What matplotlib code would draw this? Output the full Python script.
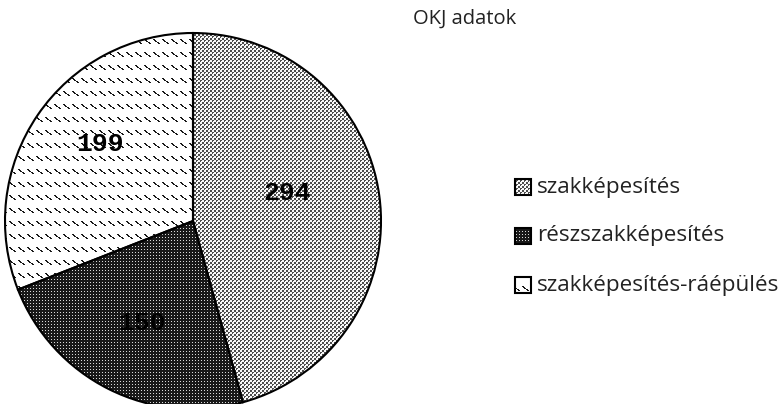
import numpy as np
import matplotlib
matplotlib.use("Agg")
import matplotlib.pyplot as plt
from matplotlib.patches import Rectangle

categories = ["szakképesítés", "részszakképesítés", "szakképesítés-ráépülés"]
values = [294, 150, 199]
title = "OKJ adatok"

W, H = 781, 404
fig = plt.figure(figsize=(W / 100, H / 100), dpi=100)
ax = fig.add_axes([0, 0, 1, 1])

# pixel-level fill textures (grayscale, 1 = white)
ii, jj = np.mgrid[0:H, 0:W]

def tex_check():
    t = np.where(((ii // 2) + (jj // 2)) % 2 == 0, 0.3, 0.97)
    t = np.where((ii % 4 == 1) & (jj % 4 == 1), 1.0, t)
    return t

def tex_dark():
    t = np.full((H, W), 0.1)
    t = np.where((ii % 3 == 0) & (jj % 3 == 0), 0.85, t)
    return t

def tex_dash():
    k = ii % 13
    d = (jj - np.round(1.2 * k)) % 9
    return np.where((k < 5) & (d < 2), 0.1, 1.0)

textures = [tex_check(), tex_dark(), tex_dash()]

cx, cy, r = 193, 404 - 221, 188
wedges, _ = ax.pie(values, startangle=90, counterclock=False,
                   center=(cx, cy), radius=r,
                   wedgeprops=dict(facecolor="none", edgecolor="black",
                                   linewidth=1.5, zorder=3))

for w, t in zip(wedges, textures):
    im = ax.imshow(t, extent=(0, W, 0, H), origin="upper", cmap="gray",
                   vmin=0, vmax=1, interpolation="nearest", zorder=1)
    im.set_clip_path(w)

# value labels inside the slices
label_pos = [(287, 404 - 193), (142, 404 - 323), (100, 404 - 144)]
for (x, y), v in zip(label_pos, values):
    ax.text(x, y, str(v), ha="center", va="center", fontsize=19,
            fontweight="bold", family="Liberation Mono", zorder=4)

ax.text(516, 404 - 19, title, ha="right", va="center", fontsize=14.5,
        family="Open Sans", color="#222222")

# legend with textured swatches
leg_y = [187, 236, 285]
for name, t, yy in zip(categories, textures, leg_y):
    y0 = 404 - yy - 8
    rect = Rectangle((515, y0), 16, 16, facecolor="none", edgecolor="black",
                     linewidth=1.5, zorder=3)
    ax.add_patch(rect)
    im = ax.imshow(t, extent=(0, W, 0, H), origin="upper", cmap="gray",
                   vmin=0, vmax=1, interpolation="nearest", zorder=1)
    im.set_clip_path(rect)
    ax.text(537, 404 - yy, name, ha="left", va="center", fontsize=16.2,
            family="Open Sans", color="#222222")

ax.set_xlim(0, W)
ax.set_ylim(0, H)
ax.set_aspect("auto")
ax.axis("off")
fig.savefig("out.png", dpi=100, facecolor="white")
